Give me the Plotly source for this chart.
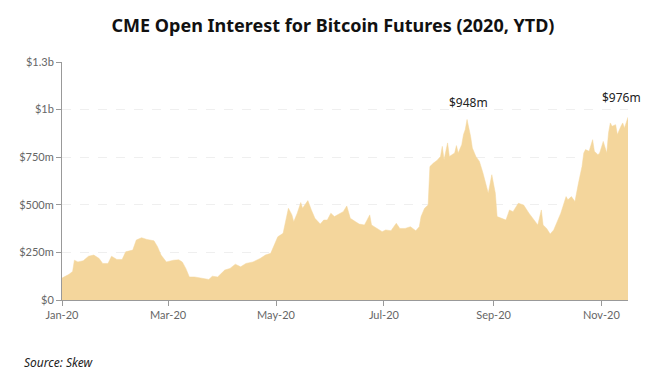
import plotly.graph_objects as go

dates = [
    "2020-01-01", "2020-01-05", "2020-01-07", "2020-01-08", "2020-01-10", "2020-01-13",
    "2020-01-16", "2020-01-19", "2020-01-22", "2020-01-24", "2020-01-27", "2020-01-29",
    "2020-02-01", "2020-02-04", "2020-02-06", "2020-02-10", "2020-02-12", "2020-02-15",
    "2020-02-18", "2020-02-22", "2020-02-24", "2020-02-26", "2020-02-29", "2020-03-04",
    "2020-03-07", "2020-03-09", "2020-03-11", "2020-03-13", "2020-03-16", "2020-03-20",
    "2020-03-24", "2020-03-26", "2020-03-29", "2020-04-02", "2020-04-05", "2020-04-08",
    "2020-04-11", "2020-04-14", "2020-04-18", "2020-04-22", "2020-04-25", "2020-04-28",
    "2020-04-30", "2020-05-02", "2020-05-05", "2020-05-07", "2020-05-08", "2020-05-10",
    "2020-05-11", "2020-05-13", "2020-05-15", "2020-05-16", "2020-05-19", "2020-05-21",
    "2020-05-23", "2020-05-26", "2020-05-28", "2020-05-30", "2020-06-01", "2020-06-03",
    "2020-06-08", "2020-06-10", "2020-06-12", "2020-06-15", "2020-06-17", "2020-06-20",
    "2020-06-23", "2020-06-24", "2020-06-27", "2020-06-30", "2020-07-02", "2020-07-05",
    "2020-07-08", "2020-07-10", "2020-07-13", "2020-07-16", "2020-07-19", "2020-07-21",
    "2020-07-22", "2020-07-24", "2020-07-26", "2020-07-27", "2020-07-29", "2020-07-31",
    "2020-08-02", "2020-08-03", "2020-08-04", "2020-08-06", "2020-08-07", "2020-08-10",
    "2020-08-11", "2020-08-12", "2020-08-14", "2020-08-15", "2020-08-16", "2020-08-17",
    "2020-08-19", "2020-08-20", "2020-08-22", "2020-08-24", "2020-08-26", "2020-08-28",
    "2020-08-29", "2020-08-31", "2020-09-02", "2020-09-03", "2020-09-06", "2020-09-08",
    "2020-09-10", "2020-09-12", "2020-09-15", "2020-09-18", "2020-09-21", "2020-09-24",
    "2020-09-26", "2020-09-28", "2020-09-29", "2020-10-01", "2020-10-03", "2020-10-05",
    "2020-10-07", "2020-10-09", "2020-10-12", "2020-10-13", "2020-10-15", "2020-10-17",
    "2020-10-19", "2020-10-21", "2020-10-22", "2020-10-23", "2020-10-25", "2020-10-27",
    "2020-10-28", "2020-10-30", "2020-10-31", "2020-11-02", "2020-11-04", "2020-11-05",
    "2020-11-06", "2020-11-07", "2020-11-09", "2020-11-10", "2020-11-12", "2020-11-13",
    "2020-11-14", "2020-11-16",
]

open_interest_m = [
    115, 135, 150, 209, 200, 206,
    230, 236, 218, 192, 192, 230,
    213, 213, 253, 262, 315, 327,
    318, 311, 280, 236, 200, 209,
    211, 200, 166, 121, 121, 113,
    108, 125, 121, 157, 166, 188,
    174, 192, 200, 218, 236, 245,
    288, 332, 350, 429, 482, 447,
    411, 456, 512, 482, 522, 473,
    429, 399, 420, 420, 456, 438,
    464, 494, 429, 411, 399, 394,
    447, 394, 376, 359, 368, 364,
    403, 376, 376, 385, 364, 385,
    438, 482, 499, 701, 719, 733,
    754, 807, 737, 825, 754, 772,
    811, 772, 816, 869, 895, 948,
    860, 798, 754, 728, 667, 596,
    561, 658, 561, 438, 429, 420,
    473, 464, 508, 499, 456, 420,
    394, 473, 394, 376, 346, 368,
    411, 456, 543, 526, 543, 517,
    614, 701, 772, 790, 781, 842,
    781, 763, 772, 833, 772, 878,
    930, 912, 921, 869, 912, 930,
    904, 960,
]

y_tick_values = [0, 250, 500, 750, 1000, 1250]
y_tick_labels = ["$0", "$250m", "$500m", "$750m", "$1b", "$1.3b"]

title_text = "CME Open Interest for Bitcoin Futures (2020, YTD)"
source_text = "Source: Skew"
peak_labels = ["$948m", "$976m"]

W, H = 650, 367  # page shows the figure offset by the 8px body margin

fig = go.Figure()
fig.add_trace(go.Scatter(
    x=dates, y=open_interest_m, mode="lines", fill="tozeroy",
    line=dict(width=0.5, color="#F4D69C"), fillcolor="#F4D69C",
    hoverinfo="x+y", showlegend=False,
))

fig.update_layout(
    width=W, height=H,
    margin=dict(l=54, r=30, t=54, b=75),
    paper_bgcolor="white", plot_bgcolor="white",
    title=dict(text="<b>" + title_text + "</b>", x=0.5, xanchor="center",
               y=1 - 18 / H, yref="container", yanchor="middle",
               font=dict(family="Noto Sans", size=18, color="#111")),
    font=dict(family="Lato", size=11, color="#666"),
)
fig.update_xaxes(
    type="date", range=["2020-01-01", "2020-11-16"],
    tick0="2020-01-01", dtick="M2", tickformat="%b-%y",
    showline=True, linecolor="#999", linewidth=1,
    ticks="outside", ticklen=5, tickcolor="#999",
    showgrid=False, zeroline=False,
    tickfont=dict(family="Lato", size=11, color="#666"),
)
fig.update_yaxes(
    range=[0, 1250], tickvals=y_tick_values, ticktext=y_tick_labels,
    showline=True, linecolor="#999", linewidth=1,
    ticks="outside", ticklen=5, tickcolor="#999",
    showgrid=True, gridcolor="#efefef", griddash="dash", gridwidth=1,
    zeroline=False,
    tickfont=dict(family="Lato", size=11, color="#666"),
)

fig.add_annotation(x="2020-08-17", y=1250, yref="y", text=peak_labels[0],
                   showarrow=False, yshift=-40, xshift=1,
                   font=dict(family="Noto Sans", size=12, color="#222"))
fig.add_annotation(x="2020-11-16", y=1250, yref="y", text=peak_labels[1],
                   showarrow=False, yshift=-35, xshift=-7,
                   font=dict(family="Noto Sans", size=12, color="#222"))
fig.add_annotation(x=(22 - 62) / 566, xref="paper", xanchor="left",
                   y=(300 - 362) / 238, yref="paper", yanchor="middle",
                   text="<i>" + source_text + "</i>", showarrow=False,
                   font=dict(family="Noto Sans", size=12, color="#222"))

fig.write_html("out.html")
